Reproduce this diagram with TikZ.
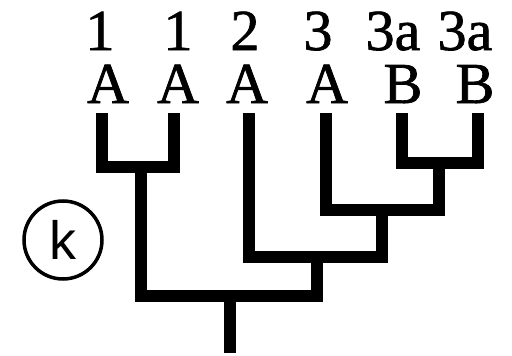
\documentclass[tikz,border=0pt]{standalone}
\usepackage{fontspec}
\setmainfont{Liberation Serif}
\newfontfamily\taxonfont[FakeBold=1.2]{Liberation Serif}
\newfontfamily\tagfont{Liberation Sans}
\usetikzlibrary{positioning}
\tikzset{
  taxon/.style={
    font=\taxonfont\fontsize{58}{58}\selectfont,
    inner sep=0pt,
    anchor=base
  },
  branch/.style={
    line width=12pt,
    line cap=butt,
    line join=miter
  },
  tag/.style={
    circle,
    draw,
    line width=3.5pt,
    minimum size=78pt,
    inner sep=0pt,
    font=\tagfont\fontsize{54}{54}\selectfont
  }
}

\begin{document}
\begin{tikzpicture}[x=1pt, y=-1pt]
\useasboundingbox (0,0) rectangle (512,356);

% Taxon labels
\foreach \idx/\nx/\gx/\code/\grp in {1/100/108/1/A, 2/178/178/1/A, 3/245/247/2/A,
    4/318/327/3/A, 5/393/403/3a/B, 6/465/475/3a/B} {
  \node[taxon] (num\idx) at (\nx,50) {\code};
  \node[taxon] (grp\idx) at (\gx,103) {\grp};
}

% Branch tips and clades
\coordinate (tip1) at (102,113);
\coordinate (tip2) at (174,113);
\coordinate (tip3) at (249,113);
\coordinate (tip4) at (326,113);
\coordinate (tip5) at (402,113);
\coordinate (tip6) at (478,113);
\coordinate (c12) at (141,167);
\coordinate (c56) at (439,163);
\coordinate (c456) at (382,210);
\coordinate (c3456) at (317,257);
\coordinate (root) at (230,296);
\coordinate (base) at (230,353);

% Tree
\draw[branch] (tip1) |- (c12) -| (tip2);
\draw[branch] (tip5) |- (c56) -| (tip6);
\draw[branch] (tip4) |- (c456) -| (c56);
\draw[branch] (tip3) |- (c3456) -| (c456);
\draw[branch] (c12) |- (root) -| (c3456);
\draw[branch] (root) -- (base);

% Panel tag
\node[tag] (k) at (63,240) {k};

\end{tikzpicture}
\end{document}
